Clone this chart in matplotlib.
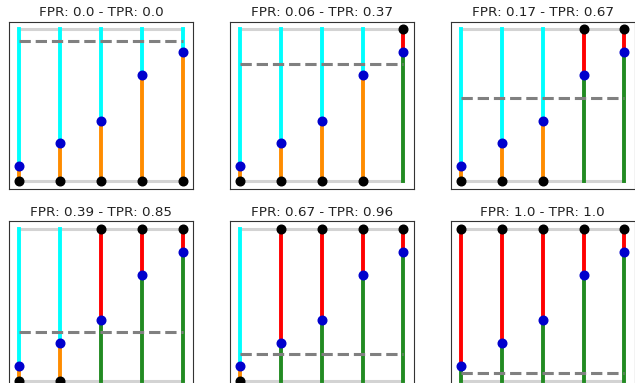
import matplotlib
matplotlib.use("Agg")
import matplotlib.pyplot as plt

probs = [0.1, 0.25, 0.4, 0.7, 0.85]
thresholds = [0.925, 0.775, 0.55, 0.325, 0.175, 0.05]
fprs = ["0.0", "0.06", "0.17", "0.39", "0.67", "1.0"]
tprs = ["0.0", "0.37", "0.67", "0.85", "0.96", "1.0"]

fig = plt.figure(figsize=(6.35, 3.83), dpi=100)
W, H = 635.0, 383.0
lefts = [9, 229.7, 450.7]
tops = [21.7, 221.3]
aw, ah = 184.0, 167.3

for k, thr in enumerate(thresholds):
    r, c = divmod(k, 3)
    ax = fig.add_axes([lefts[c] / W, (H - tops[r] - ah) / H, aw / W, ah / H])
    xs = list(range(len(probs)))
    ax.plot([xs[0], xs[-1]], [1, 1], color="lightgray", lw=2.2, zorder=1)
    ax.plot([xs[0], xs[-1]], [0, 0], color="lightgray", lw=2.2, zorder=1)
    for x, p in zip(xs, probs):
        if p > thr:
            ax.plot([x, x], [0, p], color="forestgreen", lw=2.8, zorder=2)
            ax.plot([x, x], [p, 1], color="red", lw=2.8, zorder=2)
            ax.plot([x], [1], "o", color="black", ms=6.2, zorder=5)
        else:
            ax.plot([x, x], [0, p], color="darkorange", lw=2.8, zorder=2)
            ax.plot([x, x], [p, 1], color="cyan", lw=2.8, zorder=2)
            ax.plot([x], [0], "o", color="black", ms=6.2, zorder=5)
        ax.plot([x], [p], "o", color="mediumblue", ms=6.2, zorder=4)
    ax.plot([xs[0], xs[-1]], [thr, thr], "--", color="gray", lw=2.2, zorder=3)
    ax.set_xlim(-0.25, 4.25)
    ax.set_ylim(-0.05, 1.05)
    ax.set_xticks([])
    ax.set_yticks([])
    for s in ax.spines.values():
        s.set_color("#333333")
        s.set_linewidth(0.8)
    ax.set_title(f"FPR: {fprs[k]} - TPR: {tprs[k]}", fontsize=9.7, pad=4.0, color="#222222")

fig.savefig("out.png", dpi=100)
